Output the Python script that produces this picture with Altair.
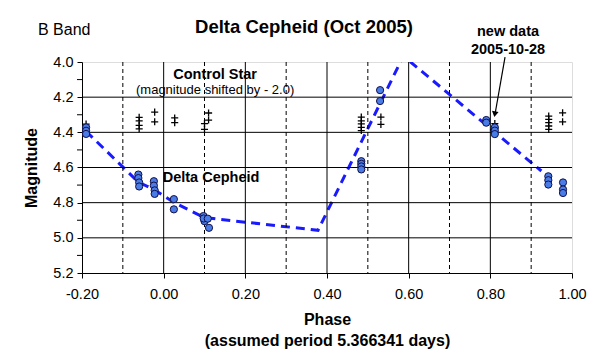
import altair as alt
import pandas as pd

# Delta Cepheid observations (phase, B magnitude)
dc_phase = [-0.190, -0.190, -0.190,
            -0.062, -0.062, -0.060, -0.060,
            -0.024, -0.024, -0.022, -0.022,
            0.025, 0.025,
            0.0975, 0.100, 0.098, 0.108, 0.111,
            0.484, 0.484, 0.484, 0.484,
            0.530, 0.530,
            0.790, 0.790,
            0.811, 0.811, 0.811,
            0.942, 0.942, 0.942,
            0.978, 0.978, 0.978]
dc_mag = [4.372, 4.391, 4.409,
          4.640, 4.660, 4.685, 4.708,
          4.678, 4.703, 4.730, 4.750,
          4.780, 4.838,
          4.876, 4.905, 4.890, 4.891, 4.943,
          4.564, 4.579, 4.594, 4.611,
          4.160, 4.222,
          4.330, 4.345,
          4.372, 4.390, 4.410,
          4.650, 4.672, 4.697,
          4.685, 4.725, 4.745]

# Control star (magnitude shifted by -2.0)
cs_phase = [-0.190,
            -0.060, -0.060, -0.060, -0.060,
            -0.022, -0.022,
            0.027, 0.027,
            0.100, 0.100,
            0.110, 0.110,
            0.484, 0.484, 0.484, 0.484, 0.484,
            0.532, 0.532,
            0.811, 0.811,
            0.943, 0.943, 0.943, 0.943, 0.943,
            0.977, 0.977]
cs_mag = [4.353,
          4.315, 4.335, 4.360, 4.380,
          4.285, 4.340,
          4.318, 4.345,
          4.350, 4.383,
          4.290, 4.330,
          4.313, 4.335, 4.352, 4.372, 4.390,
          4.313, 4.355,
          4.350, 4.375,
          4.308, 4.326, 4.345, 4.364, 4.383,
          4.289, 4.340]

# Fitted light curve (dashed)
fit_phase = [-0.190, -0.062, -0.024, 0.026, 0.100, 0.378, 0.587, 0.925]
fit_mag = [4.394, 4.683, 4.725, 4.800, 4.885, 4.957, 3.966, 4.620]

# Grid and ticks
solid_x = [0.0, 0.2, 0.4, 0.6, 0.8]
dashed_x = [-0.1, 0.1, 0.3, 0.5, 0.7, 0.9]
solid_y = [4.2, 4.4, 4.6, 4.8, 5.0]
x_ticks = [-0.2, 0.0, 0.2, 0.4, 0.6, 0.8, 1.0]
y_ticks = [4.0, 4.2, 4.4, 4.6, 4.8, 5.0, 5.2]
y_minor = [4.1, 4.3, 4.5, 4.7, 4.9, 5.1]

# Annotations in data coordinates
ann_text = ["Control Star", "(magnitude shifted by - 2.0)", "Delta Cepheid"]
ann_phase = [0.126, 0.126, 0.116]
ann_mag = [4.097, 4.182, 4.683]
ann_weight = ["bold", "normal", "bold"]

# Arrow pointing to the new data
arrow_phase = [0.836, 0.812]
arrow_mag = [3.972, 4.290]
arrow_head = [0.811, 4.297]

FONT = "Liberation Sans"

xs = alt.Scale(domain=[-0.2, 1.0], nice=False, zero=False)
ys = alt.Scale(domain=[4.0, 5.2], reverse=True, nice=False, zero=False)

x_axis = alt.Axis(
    values=x_ticks, grid=False, tickSize=5, labelPadding=9,
    labelExpr="(datum.value < -0.0001 ? '-' : '') + format(abs(datum.value), '.2f')",
    labelFontSize=14.5, labelFont=FONT, labelColor="black",
    labelOverlap=False, labelFlush=False,
    title=["Phase", "(assumed period 5.366341 days)"], titleFontWeight="bold",
    titleFont=FONT, titleFontSize=16, titleLineHeight=21, titlePadding=11,
    titleColor="black", domainColor="black", tickColor="black")
y_axis = alt.Axis(
    values=y_ticks, format=".1f", grid=False, tickSize=5, labelPadding=4,
    labelFontSize=14.5, labelFont=FONT, labelColor="black",
    labelOverlap=False, labelFlush=False,
    title="Magnitude", titleFontWeight="bold", titleFont=FONT, titleFontSize=16,
    titlePadding=13, titleColor="black", domainColor="black", tickColor="black")

X = alt.X("phase:Q", scale=xs, axis=x_axis)
Y = alt.Y("mag:Q", scale=ys, axis=y_axis)

grid_solid_v = alt.Chart(pd.DataFrame({"phase": solid_x})).mark_rule(
    color="black", strokeWidth=1).encode(x=X)
grid_dash_v = alt.Chart(pd.DataFrame({"phase": dashed_x})).mark_rule(
    color="black", strokeWidth=1, strokeDash=[4, 3]).encode(x=X)
grid_solid_h = alt.Chart(pd.DataFrame({"mag": solid_y})).mark_rule(
    color="black", strokeWidth=1).encode(y=Y)
minor_ticks = alt.Chart(pd.DataFrame({"mag": y_minor})).mark_rule(
    color="black", strokeWidth=1).encode(y=Y, x=alt.value(0), x2=alt.value(-5))

fit = alt.Chart(pd.DataFrame({"phase": fit_phase, "mag": fit_mag})).mark_line(
    color="#1a1aff", strokeWidth=3, strokeDash=[9, 6], clip=True).encode(x=X, y=Y)

control = alt.Chart(pd.DataFrame({"phase": cs_phase, "mag": cs_mag})).mark_point(
    shape="M-1,0L1,0M0,-1L0,1", filled=False, color="black", strokeWidth=1.3,
    size=50, opacity=1).encode(x=X, y=Y)

delta = alt.Chart(pd.DataFrame({"phase": dc_phase, "mag": dc_mag})).mark_point(
    shape="circle", filled=True, fill="#4a7ce8", stroke="#10104a", strokeWidth=1,
    size=52, opacity=1).encode(x=X, y=Y)

ann = alt.Chart(pd.DataFrame({"t": ann_text, "phase": ann_phase, "mag": ann_mag,
                              "w": ann_weight}))
ann_bold = ann.transform_filter("datum.w == 'bold'").mark_text(
    font=FONT, fontWeight="bold", fontSize=14.5, align="center", baseline="alphabetic",
    color="black").encode(x=X, y=Y, text="t:N")
ann_norm = ann.transform_filter("datum.w == 'normal'").mark_text(
    font=FONT, fontSize=13, align="center", baseline="alphabetic",
    color="black").encode(x=X, y=Y, text="t:N")

arrow = alt.Chart(pd.DataFrame({"phase": [arrow_phase[0]], "mag": [arrow_mag[0]],
                                "phase2": [arrow_phase[1]], "mag2": [arrow_mag[1]]})).mark_rule(
    color="black", strokeWidth=1.2).encode(x=X, y=Y, x2="phase2:Q", y2="mag2:Q")
arrowhead = alt.Chart(pd.DataFrame({"phase": [arrow_head[0]], "mag": [arrow_head[1]]})).mark_point(
    shape="triangle-down", filled=True, color="black", size=45, angle=9, opacity=1).encode(
    x=X, y=Y)

title = alt.Chart(pd.DataFrame({"t": ["Delta Cepheid (Oct 2005)"]})).mark_text(
    font=FONT, fontWeight="bold", fontSize=18.5, align="center", baseline="alphabetic",
    color="black").encode(x=alt.value(222), y=alt.value(-29), text="t:N")
band = alt.Chart(pd.DataFrame({"t": ["B Band"]})).mark_text(
    font=FONT, fontSize=16, align="left", baseline="alphabetic",
    color="black").encode(x=alt.value(-44), y=alt.value(-27), text="t:N")
new1 = alt.Chart(pd.DataFrame({"t": ["new data"]})).mark_text(
    font=FONT, fontWeight="bold", fontSize=14.5, align="center", baseline="alphabetic",
    color="black").encode(x=alt.value(426), y=alt.value(-26), text="t:N")
new2 = alt.Chart(pd.DataFrame({"t": ["2005-10-28"]})).mark_text(
    font=FONT, fontWeight="bold", fontSize=14.5, align="center", baseline="alphabetic",
    color="black").encode(x=alt.value(426), y=alt.value(-8), text="t:N")

chart = alt.layer(
    fit, grid_solid_h, grid_solid_v, grid_dash_v, minor_ticks, control, delta,
    ann_bold, ann_norm, arrow, arrowhead, title, band, new1, new2
).properties(
    width=490, height=211,
    padding={"left": 74, "top": 54, "right": 28, "bottom": 80},
    autosize=alt.AutoSizeParams(type="none"),
).configure_view(
    fill="#c0c0c0", stroke="#808080", strokeWidth=1
).configure(background="white")

chart.save("out.html", embed_options={"renderer": "svg", "actions": False})
